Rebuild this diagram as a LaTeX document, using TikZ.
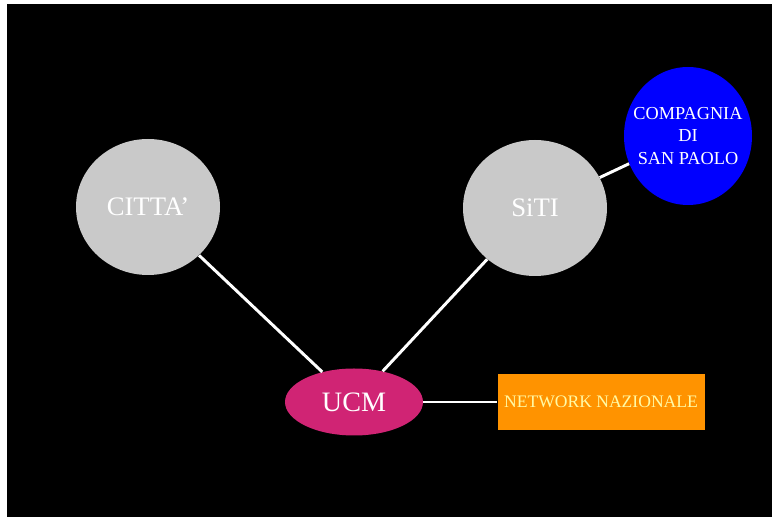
\documentclass[tikz,border=0pt]{standalone}
\usepackage{fontspec}
\setmainfont{Liberation Serif}
\usetikzlibrary{shapes.geometric}
\begin{document}
\begin{tikzpicture}[
            x=0.025cm, y=-0.025cm,
            blob/.style={
                ellipse,
                draw=none,
                inner sep=0pt,
                align=center,
                text=white
            },
            partner/.style={
                blob,
                fill=gray!42,
                minimum width=144\px,
                minimum height=136\px,
                font=\fontsize{19}{22}\selectfont
            },
            box/.style={
                rectangle,
                draw=none,
                fill=orange!85!yellow,
                minimum width=207\px,
                minimum height=56\px,
                text=yellow!35!white,
                font=\fontsize{12.5}{15}\selectfont
            },
            link/.style={draw=white, line width=2.1pt}
        ]
        \def\px{*0.025cm}
        % Background
        \fill[white] (0,0) rectangle (772,517);
        \fill[black] (7,4) rectangle (772,517);

        % Nodes
        \node[partner] (citta) at (148,207) {CITTA'};
        \node[partner] (siti) at (535,208) {SiTI};
        \node[blob, fill=blue, inner xsep=-8pt, minimum width=128\px, minimum height=138\px,
              font=\fontsize{13}{16}\selectfont] (csp) at (688,136) {COMPAGNIA\\DI\\SAN PAOLO};
        \node[blob, fill=magenta!80!red!85!black, minimum width=138\px, minimum height=67\px,
              font=\fontsize{20}{24}\selectfont] (ucm) at (354,402) {UCM};
        \node[box] (rete) at (601,402) {NETWORK NAZIONALE};

        % Connecting lines
        \draw[link] (citta) -- (ucm);
        \draw[link] (siti) -- (ucm);
        \draw[link] (siti) -- (csp);
        \draw[link] (ucm) -- (rete);
\end{tikzpicture}
\end{document}
